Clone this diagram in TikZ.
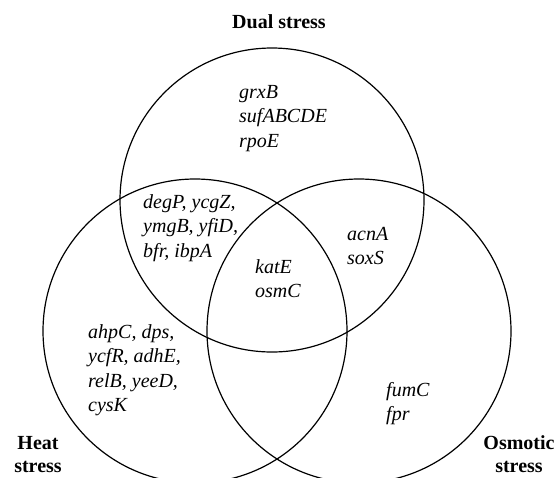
\documentclass[tikz,border=0pt]{standalone}
\usepackage{fontspec}
\setmainfont{Liberation Serif}
\begin{document}
\begin{tikzpicture}[x=1pt,y=-1pt,
  venn/.style={circle,draw,line width=1.2pt,minimum size=304pt,inner sep=0pt},
  genes/.style={font=\itshape\fontsize{20}{24.5}\selectfont,align=left,anchor=north west,inner sep=0pt},
  title/.style={font=\bfseries\fontsize{20}{23}\selectfont,align=center,inner sep=0pt}]
\useasboundingbox (0,0) rectangle (556,477);
\node[venn] (dual) at (272,200) {};
\node[venn] (heat) at (195,331) {};
\node[venn] (osm) at (359,331) {};
\node[title,anchor=base] (tdual) at (279,28) {Dual stress};
\node[title,anchor=base] (theat) at (38,472) {Heat\\stress};
\node[title,anchor=base] (tosm) at (519,472) {Osmotic\\stress};
\node[genes] (g1) at (239,85) {grxB\\sufABCDE\\rpoE};
\node[genes] (g2) at (143,194) {degP, ycgZ,\\ymgB, yfiD,\\bfr, ibpA};
\node[genes] (g3) at (255,259) {katE\\osmC};
\node[genes] (g4) at (347,227) {acnA\\soxS};
\node[genes] (g5) at (88,324) {ahpC, dps,\\ycfR, adhE,\\relB, yeeD,\\cysK};
\node[genes] (g6) at (386,382) {fumC\\fpr};
\end{tikzpicture}
\end{document}
